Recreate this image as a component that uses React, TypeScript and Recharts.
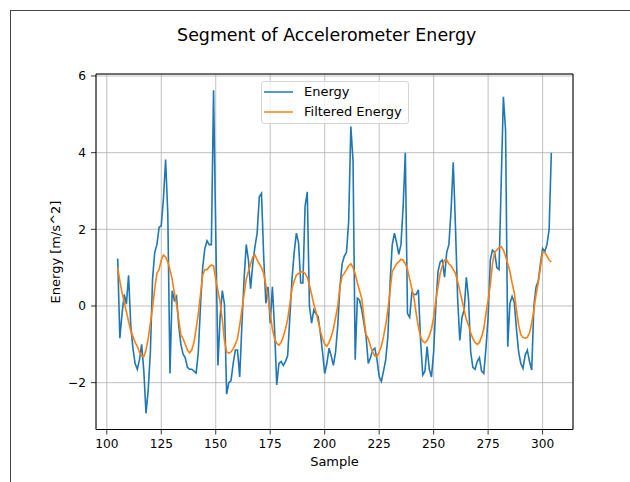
import { LineChart, Line, XAxis, YAxis, CartesianGrid, Legend, ReferenceArea } from "recharts";

const FONT = "'DejaVu Sans', sans-serif";

// sample index of the first point
const START_SAMPLE = 105;

const energy = [
  1.24, -0.84, -0.2, 0.3, 0.05, 0.8, -0.5, -1.1, -1.5, -1.65,
  -1.4, -1.0, -1.7, -2.8, -2.2, -1.2, 0.7, 1.4, 1.6, 2.05,
  2.1, 2.8, 3.82, 2.4, -1.76, 0.4, 0.15, 0.25, -0.5, -1.0,
  -1.25, -1.35, -1.6, -1.65, -1.65, -1.7, -1.75, -1.2, 0.0, 1.0,
  1.5, 1.7, 1.6, 1.6, 5.63, 1.9, -1.55, -0.3, 0.4, 0.05,
  -2.3, -2.0, -1.95, -1.5, -1.15, -1.15, -1.85, -0.5, 0.7, 1.6,
  1.2, 0.45, 1.1, 1.55, 1.9, 2.85, 2.94, 1.3, 0.07, 0.5,
  -0.45, 0.5, -0.6, -2.06, -1.5, -1.45, -1.55, -1.45, -1.3, -0.3,
  0.7, 1.4, 1.9, 1.65, 0.6, 0.6, 2.6, 2.98, 0.0, -0.45,
  -0.1, -0.2, -0.28, -0.7, -1.2, -1.76, -1.5, -1.1, -1.3, -1.55,
  -1.2, -0.5, 0.5, 1.1, 1.3, 1.4, 2.2, 4.68, 3.8, -1.4,
  0.2, 0.15, -0.1, -0.45, -0.8, -1.5, -1.35, -1.15, -1.1, -1.4,
  -1.84, -1.97, -1.7, -1.4, -0.8, 0.6, 1.6, 1.9, 1.65, 1.35,
  1.6, 2.6, 4.0, -0.2, -0.3, 0.35, 0.3, 0.3, 0.42, -0.9,
  -1.8, -1.7, -1.06, -1.65, -1.85, -1.2, 0.0, 0.9, 1.15, 1.2,
  0.75, 1.4, 1.6, 2.5, 3.75, 2.1, 0.2, -0.9, -0.3, -0.1,
  0.75, 0.2, -1.2, -1.6, -1.65, -1.45, -1.35, -1.7, -1.76, -1.1,
  -0.3, 1.2, 1.46, 1.4, 1.0, 0.95, 3.2, 5.46, 4.6, -1.06,
  0.07, 0.25, 0.1, -0.6, -1.2, -1.5, -1.63, -1.28, -1.15, -1.45,
  -1.67, 0.0, 0.5, 0.65, 1.1, 1.5, 1.42, 1.6, 2.0, 4.0,
];

const filteredEnergy = [
  1.0, 0.65, 0.35, 0.1, -0.15, -0.4, -0.65, -0.8, -0.95, -1.05,
  -1.2, -1.3, -1.32, -1.15, -0.85, -0.45, -0.05, 0.45, 0.85, 0.95,
  1.2, 1.33, 1.28, 1.15, 0.95, 0.7, 0.35, 0.05, -0.35, -0.75,
  -0.85, -1.0, -1.15, -1.22, -1.15, -0.95, -0.6, -0.2, 0.3, 0.8,
  0.95, 0.95, 1.02, 1.07, 1.05, 0.7, 0.4, 0.1, -0.35, -0.9,
  -1.2, -1.23, -1.2, -1.12, -1.0, -0.85, -0.5, -0.1, 0.3, 0.7,
  0.9, 1.1, 1.28, 1.33, 1.2, 1.1, 1.0, 0.85, 0.55, 0.2,
  -0.2, -0.6, -0.85, -0.98, -1.02, -0.95, -0.8, -0.6, -0.35, 0.05,
  0.45, 0.65, 0.8, 0.85, 0.88, 0.9, 0.85, 0.75, 0.55, 0.3,
  0.05, -0.15, -0.4, -0.65, -0.85, -1.0, -1.05, -0.95, -0.8, -0.6,
  -0.3, 0.0, 0.5, 0.78, 0.85, 0.95, 1.05, 1.1, 1.0, 0.85,
  0.6, 0.4, 0.2, -0.3, -0.75, -0.85, -1.05, -1.2, -1.3, -1.32,
  -1.2, -1.05, -0.8, -0.5, -0.1, 0.4, 0.9, 1.0, 1.1, 1.15,
  1.22, 1.2, 1.1, 0.95, 0.7, 0.45, 0.2, -0.2, -0.55, -0.8,
  -0.92, -0.96, -0.9, -0.78, -0.6, -0.3, 0.15, 0.5, 0.85, 1.05,
  1.2, 1.2, 1.1, 1.05, 0.95, 0.85, 0.65, 0.4, 0.15, -0.1,
  -0.35, -0.5, -0.7, -0.85, -0.95, -1.0, -0.95, -0.8, -0.6, -0.2,
  0.15, 0.55, 1.1, 1.4, 1.46, 1.52, 1.55, 1.46, 1.3, 1.1,
  0.9, 0.6, 0.35, -0.1, -0.5, -0.75, -0.82, -0.84, -0.82, -0.7,
  -0.45, -0.1, 0.3, 0.6, 1.0, 1.4, 1.4, 1.3, 1.2, 1.15,
];

const xTicks = [100, 125, 150, 175, 200, 225, 250, 275, 300];
const yTicks = [-2, 0, 2, 4, 6];
const X_DOMAIN = [95.05, 313.95];
const Y_DOMAIN = [-3.222, 6.052];

const SERIES = [
  { key: "energy", name: "Energy", color: "#1f77b4" },
  { key: "filtered", name: "Filtered Energy", color: "#ff7f0e" },
];

const chartData = energy.map((v, i) => ({
  sample: START_SAMPLE + i,
  energy: v,
  filtered: filteredEnergy[i],
}));

const fmtY = (v: number) => (v < 0 ? `\u2212${-v}` : `${v}`);

function LegendBox() {
  return (
    <div
      style={{
        position: "relative",
        width: 148,
        height: 43,
        boxSizing: "border-box",
        border: "1px solid #d5d5d5",
        borderRadius: 3,
        background: "rgba(255,255,255,0.8)",
        fontFamily: FONT,
        fontSize: 13,
        color: "#000",
      }}
    >
      {SERIES.map((s, i) => (
        <div key={s.key} style={{ position: "absolute", left: 2, top: i * 20, height: 20, display: "flex", alignItems: "center" }}>
          <svg width={30} height={20} style={{ display: "block" }}>
            <line x1={0} x2={29} y1={10} y2={10} stroke={s.color} strokeWidth={1.5} />
          </svg>
          <span style={{ marginLeft: 10, whiteSpace: "nowrap", lineHeight: "20px" }}>{s.name}</span>
        </div>
      ))}
    </div>
  );
}

export default function App() {
  return (
    <div style={{ position: "absolute", left: 0, top: 0, width: 630, height: 482, overflow: "hidden", background: "#fff" }}>
      <div
        style={{
          position: "absolute",
          left: 10,
          top: 10,
          width: 700,
          height: 600,
          borderLeft: "1px solid #444",
          borderTop: "1px solid #444",
        }}
      />
      <div
        style={{
          position: "absolute",
          left: 126.7,
          width: 400,
          top: 25,
          textAlign: "center",
          fontFamily: FONT,
          fontSize: 17.4,
          lineHeight: "20px",
          color: "#000",
        }}
      >
        Segment of Accelerometer Energy
      </div>
      <div style={{ position: "absolute", left: 0, top: 0 }}>
        <LineChart
          width={630}
          height={482}
          data={chartData}
          margin={{ top: 74, right: 57, bottom: 22.5, left: 56 }}
        >
          <CartesianGrid stroke="#b0b0b0" strokeWidth={0.8} />
          <XAxis
            dataKey="sample"
            type="number"
            domain={X_DOMAIN}
            ticks={xTicks}
            allowDataOverflow
            height={30}
            axisLine={false}
            tickLine={{ stroke: "#000", strokeWidth: 0.8 }}
            tickSize={5}
            tickMargin={5}
            tick={{ fill: "#000", fontSize: 12.2, fontFamily: FONT }}
          />
          <YAxis
            type="number"
            domain={Y_DOMAIN}
            ticks={yTicks}
            allowDataOverflow
            width={40}
            axisLine={false}
            tickLine={{ stroke: "#000", strokeWidth: 0.8 }}
            tickSize={5}
            tickMargin={5}
            tickFormatter={fmtY}
            tick={{ fill: "#000", fontSize: 12.2, fontFamily: FONT }}
          />
          <Legend
            layout="vertical"
            align="center"
            verticalAlign="middle"
            width={148}
            wrapperStyle={{ left: 261, top: 81, width: 148 }}
            content={() => <LegendBox />}
          />
          {SERIES.map((s) => (
            <Line
              key={s.key}
              type="linear"
              dataKey={s.key}
              name={s.name}
              stroke={s.color}
              strokeWidth={1.6}
              dot={false}
              isAnimationActive={false}
            />
          ))}
          <ReferenceArea
            x1={X_DOMAIN[0]}
            x2={X_DOMAIN[1]}
            y1={Y_DOMAIN[0]}
            y2={Y_DOMAIN[1]}
            fill="none"
            fillOpacity={0}
            stroke="#000"
            strokeWidth={1}
          />
        </LineChart>
      </div>
      <div
        style={{
          position: "absolute",
          left: 55,
          top: 252,
          transform: "translate(-50%, -50%) rotate(-90deg)",
          whiteSpace: "nowrap",
          fontFamily: FONT,
          fontSize: 13,
          color: "#000",
        }}
      >
        Energy [m/s^2]
      </div>
      <div
        style={{
          position: "absolute",
          left: 96,
          width: 477,
          top: 454,
          textAlign: "center",
          fontFamily: FONT,
          fontSize: 13,
          lineHeight: "16px",
          color: "#000",
        }}
      >
        Sample
      </div>
    </div>
  );
}
